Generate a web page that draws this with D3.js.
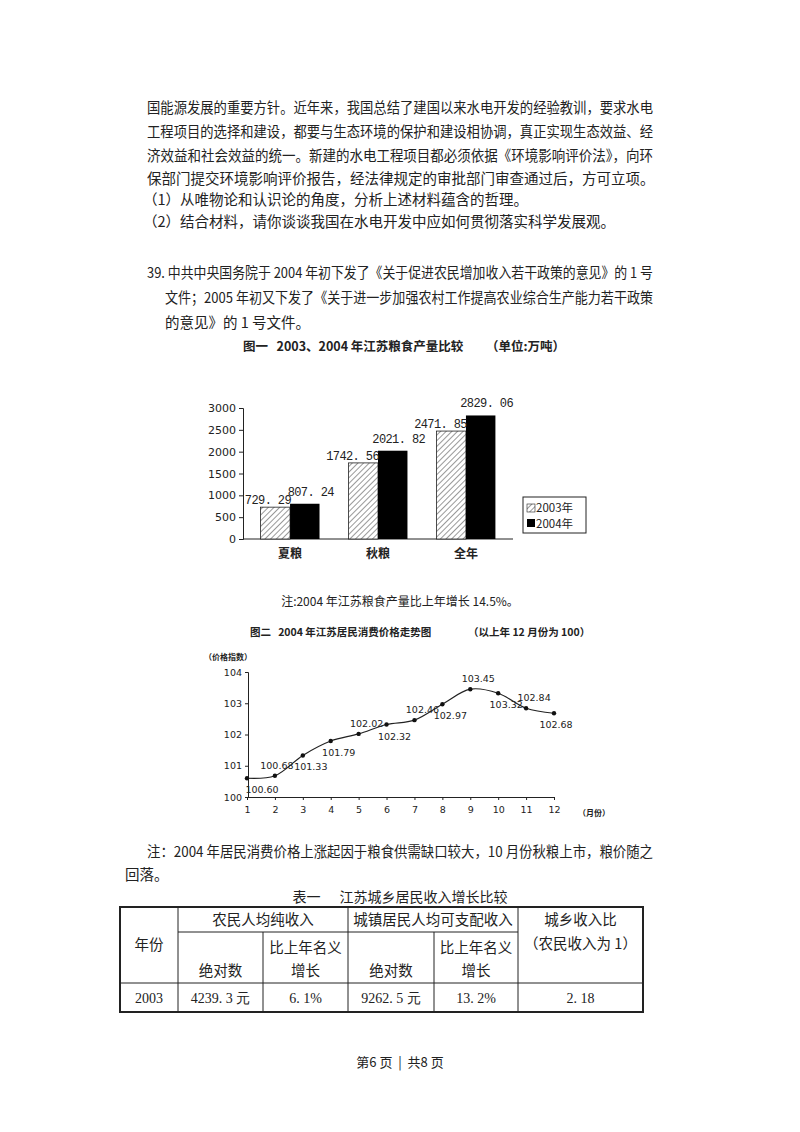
<!DOCTYPE html>
<html><head><meta charset="utf-8">
<script src="https://cdn.jsdelivr.net/npm/d3@7"></script>
<style>body{margin:0;background:#fff}svg{display:block}text{white-space:pre}</style>
</head><body>
<script>
const categories = ["夏粮","秋粮","全年"];
const values2003 = [729.29,1742.56,2471.85];
const values2004 = [807.24,2021.82,2829.06];
const barTicks = [0,500,1000,1500,2000,2500,3000];
const months = [1,2,3,4,5,6,7,8,9,10,11,12];
const cpi = [100.60,100.68,101.33,101.79,102.02,102.32,102.46,102.97,103.45,103.32,102.84,102.68];
const cpiLabels = ["100.60","100.68","101.33","101.79","102.02","102.32","102.46","102.97","103.45","103.32","102.84","102.68"];
const cpiTicks = [100,101,102,103,104];
const labelSide = ["below","above","below","below","above","below","above","below","above","below","above","below"];

const W=800,H=1132;
const svg=d3.select("body").append("svg").attr("width",W).attr("height",H);
const F='"Noto Sans CJK SC", sans-serif';
const S='"DejaVu Sans", Arial, sans-serif';
const M='"Liberation Mono", monospace';
function txt(x,y,s,o={}){const t=svg.append("text").attr("x",x).attr("y",y).text(s)
 .attr("font-family",o.f||F).attr("font-size",o.size||14.5).attr("fill","#222")
 .attr("text-anchor",o.a||"start").attr("font-weight",o.w||"normal");
 if(o.len){t.attr("textLength",o.len).attr("lengthAdjust","spacingAndGlyphs");}return t;}

const para=[
 [147,113,"国能源发展的重要方针。近年来，我国总结了建国以来水电开发的经验教训，要求水电",506],
 [147,137,"工程项目的选择和建设，都要与生态环境的保护和建设相协调，真正实现生态效益、经",506],
 [147,161,"济效益和社会效益的统一。新建的水电工程项目都必须依据《环境影响评价法》，向环",506],
 [147,184,"保部门提交环境影响评价报告，经法律规定的审批部门审查通过后，方可立项。",null],
 [143,205,"（1）从唯物论和认识论的角度，分析上述材料蕴含的哲理。",null],
 [143,227,"（2）结合材料，请你谈谈我国在水电开发中应如何贯彻落实科学发展观。",null],
 [147,278,"39. 中共中央国务院于 2004 年初下发了《关于促进农民增加收入若干政策的意见》的 1 号",506],
 [165,303,"文件；2005 年初又下发了《关于进一步加强农村工作提高农业综合生产能力若干政策",488],
 [165,328,"的意见》的 1 号文件。",null],
 [147,857,"注：2004 年居民消费价格上涨起因于粮食供需缺口较大，10 月份秋粮上市，粮价随之",506],
 [125,880,"回落。",null]
];
para.forEach(p=>txt(p[0],p[1],p[2],{len:p[3]}));

// Chart 1
txt(243,351,"图一   2003、2004 年江苏粮食产量比较",{size:12.5,w:"bold"});
txt(486,351,"（单位:万吨）",{size:12.5,w:"bold"});
const defs=svg.append("defs");
const pat=defs.append("pattern").attr("id","hatch").attr("width",4).attr("height",4)
 .attr("patternUnits","userSpaceOnUse").attr("patternTransform","rotate(45)");
pat.append("rect").attr("width",4).attr("height",4).attr("fill","#fff");
pat.append("line").attr("x1",0).attr("y1",0).attr("x2",0).attr("y2",4).attr("stroke","#333").attr("stroke-width",1);
const y1=d3.scaleLinear().domain([0,3000]).range([539,408]);
const x1=d3.scaleBand().domain(categories).range([243,513]).paddingInner(0.33).paddingOuter(0.2);
const g1=svg.append("g");
g1.append("g").attr("transform","translate(243,0)")
 .call(d3.axisLeft(y1).tickValues(barTicks).tickSize(4).tickFormat(d3.format("d")))
 .call(g=>{g.selectAll("text").attr("font-family",S).attr("font-size",11).attr("fill","#222");g.selectAll("line,path").attr("stroke","#222");});
g1.append("line").attr("x1",243).attr("x2",513).attr("y1",539).attr("y2",539).attr("stroke","#222");
const bw=x1.bandwidth()/2;
const fmt=v=>v.toFixed(2).replace(".",". ");
categories.forEach((c,i)=>{
 const x=x1(c);
 g1.append("rect").attr("x",x).attr("y",y1(values2003[i])).attr("width",bw).attr("height",539-y1(values2003[i]))
  .attr("fill","url(#hatch)").attr("stroke","#222").attr("stroke-width",0.8);
 g1.append("rect").attr("x",x+bw).attr("y",y1(values2004[i])).attr("width",bw).attr("height",539-y1(values2004[i]))
  .attr("fill","#000");
 txt(x+bw+1,y1(values2003[i])-3,fmt(values2003[i]),{f:M,size:12,a:"end"}).attr("letter-spacing",-0.6);
 txt(x+bw*1.5+6,y1(values2004[i])-8,fmt(values2004[i]),{f:M,size:12,a:"middle"}).attr("letter-spacing",-0.6);
 txt(x+bw,558,c,{size:12,a:"middle",w:"bold"});
});
g1.append("rect").attr("x",523).attr("y",497).attr("width",63).attr("height",36).attr("fill","#fff").attr("stroke","#222");
g1.append("rect").attr("x",527).attr("y",504).attr("width",8).attr("height",8).attr("fill","url(#hatch)").attr("stroke","#222").attr("stroke-width",0.6);
g1.append("rect").attr("x",527).attr("y",519).attr("width",8).attr("height",8).attr("fill","#000");
txt(536,512,"2003年",{size:11.5});
txt(536,528,"2004年",{size:11.5});
txt(400,606,"注:2004 年江苏粮食产量比上年增长 14.5%。",{size:12,a:"middle"});

// Chart 2
txt(250,636,"图二   2004 年江苏居民消费价格走势图",{size:10.5,w:"bold"});
txt(468,636,"（以上年 12 月份为 100）",{size:10.5,w:"bold"});
txt(204,660,"（价格指数）",{size:8,w:"bold"});
const x2=d3.scaleLinear().domain([1,12]).range([247,554]);
const y2=d3.scaleLinear().domain([100,104]).range([797,672]);
const g2=svg.append("g");
g2.append("g").attr("transform","translate(248,0)")
 .call(d3.axisLeft(y2).tickValues(cpiTicks).tickSize(3).tickFormat(d3.format("d")))
 .call(g=>{g.selectAll("text").attr("font-family",S).attr("font-size",9.5).attr("fill","#222");g.selectAll("line,path").attr("stroke","#222");});
g2.append("g").attr("transform","translate(0,797)")
 .call(d3.axisBottom(x2).tickValues(months).tickSize(3).tickFormat(d3.format("d")))
 .call(g=>{g.selectAll("text").attr("font-family",S).attr("font-size",9.5).attr("fill","#222").attr("dy","1.1em");g.selectAll("line,path").attr("stroke","#222");});
txt(578,816,"（月份）",{size:8,w:"bold"});
const pts=months.map((m,i)=>[x2(m),y2(cpi[i])]);
g2.append("path").attr("d",d3.line().curve(d3.curveCatmullRom.alpha(0.5))(pts)).attr("fill","none").attr("stroke","#222").attr("stroke-width",1.2);
pts.forEach((p,i)=>{
 g2.append("circle").attr("cx",p[0]).attr("cy",p[1]).attr("r",2.2).attr("fill","#111");
 const ab=labelSide[i]==="above";
 const dx = i===0?15:(i===1?2:(i===11?2:8));
 txt(p[0]+dx,p[1]+(ab?-7:15),cpiLabels[i],{f:S,size:9.5,a:"middle"});
});

// Table
txt(400,902,"表一      江苏城乡居民收入增长比较",{size:14,a:"middle"});
const cols=[120,178,263,348,434,518,643];
const tg=svg.append("g").attr("stroke","#222").attr("fill","none");
tg.append("rect").attr("x",120).attr("y",907).attr("width",523).attr("height",105).attr("stroke-width",2);
tg.append("line").attr("x1",120).attr("x2",643).attr("y1",983).attr("y2",983);
tg.append("line").attr("x1",178).attr("x2",518).attr("y1",932).attr("y2",932);
[178,348,518].forEach(x=>tg.append("line").attr("x1",x).attr("x2",x).attr("y1",907).attr("y2",1012));
[263,434].forEach(x=>tg.append("line").attr("x1",x).attr("x2",x).attr("y1",932).attr("y2",1012));
const c=(a,b)=>(a+b)/2;
txt(c(120,178),950,"年份",{a:"middle"});
txt(c(178,348),925,"农民人均纯收入",{a:"middle"});
txt(c(348,518),925,"城镇居民人均可支配收入",{a:"middle"});
txt(c(518,643),925,"城乡收入比",{a:"middle"});
txt(c(518,643),949,"（农民收入为 1）",{a:"middle"});
txt(c(178,263),976,"绝对数",{a:"middle"});
txt(c(263,348),953,"比上年名义",{a:"middle"});
txt(c(263,348),976,"增长",{a:"middle"});
txt(c(348,434),976,"绝对数",{a:"middle"});
txt(c(434,518),953,"比上年名义",{a:"middle"});
txt(c(434,518),976,"增长",{a:"middle"});
const rowVals=["2003","4239. 3 元","6. 1%","9262. 5 元","13. 2%","2. 18"];
rowVals.forEach((v,i)=>txt(c(cols[i],cols[i+1]),1003,v,{a:"middle",f:'"Liberation Serif", serif',size:14}));

txt(400,1067,"第6 页  |  共8 页",{a:"middle",size:13});
</script>
</body></html>
